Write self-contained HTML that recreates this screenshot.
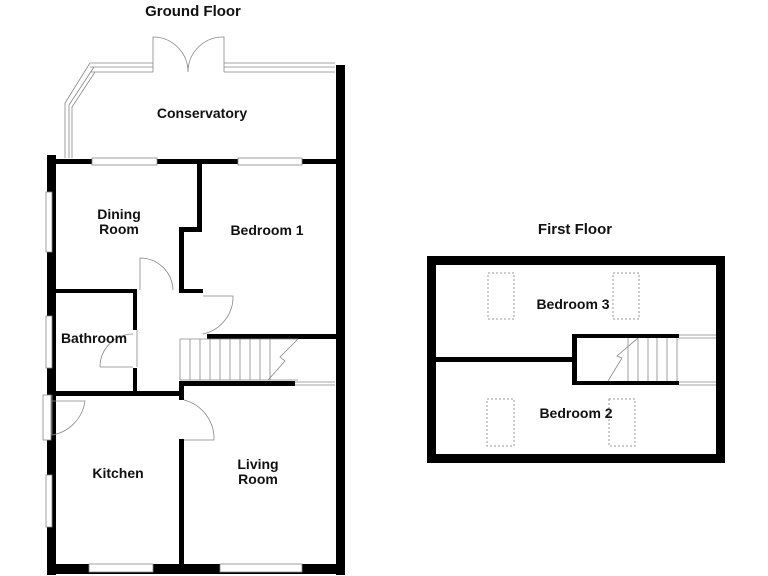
<!DOCTYPE html>
<html><head><style>body{margin:0;background:#fff}svg{display:block}text{font-family:"Liberation Sans",Arial,sans-serif;font-weight:bold;fill:#111}</style></head><body>
<svg width="768" height="576" viewBox="0 0 768 576">
<rect width="768" height="576" fill="#fff"/>
<text x="193" y="16" font-size="15" text-anchor="middle">Ground Floor</text>
<text x="575" y="234" font-size="15" text-anchor="middle">First Floor</text>
<g fill="#000">
<rect x="336" y="65" width="9" height="510"/>
<rect x="47" y="155" width="9" height="420"/>
<rect x="47" y="564" width="298" height="10"/>
<rect x="47" y="159" width="296" height="5"/>
<rect x="197" y="160" width="5" height="70"/>
<rect x="179" y="227" width="23" height="5"/>
<rect x="179" y="227" width="5" height="63"/>
<rect x="47" y="289" width="90" height="4"/>
<rect x="133" y="289" width="4" height="41"/>
<rect x="133" y="368" width="4" height="26"/>
<rect x="47" y="391" width="137" height="5"/>
<rect x="179" y="381" width="5" height="19"/>
<rect x="179" y="289" width="24" height="4"/>
<rect x="207" y="334" width="131" height="5"/>
<rect x="180" y="381" width="115" height="5"/>
<rect x="179" y="439" width="5" height="128"/>
<rect x="427" y="256" width="298" height="9"/>
<rect x="427" y="454" width="298" height="9"/>
<rect x="427" y="256" width="9" height="207"/>
<rect x="716" y="256" width="9" height="207"/>
<rect x="436" y="357" width="140" height="5"/>
<rect x="572" y="334" width="5" height="51"/>
<rect x="572" y="334" width="107" height="4"/>
<rect x="572" y="381" width="107" height="4"/>
</g>
<g fill="#fff" stroke="#888" stroke-width="0.8">
<rect x="92" y="158" width="65" height="7"/>
<rect x="238" y="158" width="64" height="7"/>
<rect x="46" y="192" width="6" height="60"/>
<rect x="46" y="316" width="6" height="52"/>
<rect x="46" y="475" width="6" height="52"/>
<rect x="89" y="564" width="64" height="8"/>
<rect x="220" y="564" width="82" height="8"/>
<rect x="43" y="395" width="8" height="45"/>
</g>
<g fill="none" stroke="#888" stroke-width="0.8">
<path d="M90 63 L153 63 M90 67 L153 67 M90 72 L153 72"/>
<path d="M224 63 L335 63 M224 67 L335 67 M224 72 L335 72"/>
<path d="M90 63 L65 103 L65 158 M94 67 L69 105 L69 158 M95 72 L72 107 L72 158"/>
<path d="M153 72 L153 37 A35 35 0 0 1 188 72 M224 72 L224 37 A35 35 0 0 0 188 72"/>
<path d="M137 330 L137 367 M100 367 L133 367 M133 334 A33 33 0 0 0 100 367"/>
<path d="M140 290 L140 258 A33 33 0 0 1 173 290"/>
<path d="M203 296 L233 296 A38 38 0 0 1 203 334"/>
<path d="M52 395 L52 435 A40 40 0 0 0 85 401 L52 401"/>
<path d="M184 400 A40 40 0 0 1 214 440 L184 440"/>
<path d="M180 339 L298 339 M180 380 L298 380 M180 339 L180 380"/>
<path d="M190 339 V380 M200 339 V380 M210 339 V380 M220 339 V380 M230 339 V380 M240 339 V380 M250 339 V380 M260 339 V380 M270 339 V380"/>
<path d="M298 339 L280 357 L285 361 L268 380"/>
<path d="M295 382 L335 382 M295 385 L335 385"/>
<path d="M679 335 L716 335 M679 338 L716 338 M679 382 L716 382 M679 385 L716 385"/>
<path d="M608 381 L622 358 L617 356 L638 338 M628 338 V381 M638 338 V381 M648 338 V381 M657 338 V381 M667 338 V381 M677 338 V381"/>
</g>
<g fill="none" stroke="#999" stroke-width="1" stroke-dasharray="2,2">
<rect x="488" y="273" width="26" height="46"/>
<rect x="613" y="273" width="26" height="46"/>
<rect x="487" y="399" width="27" height="47"/>
<rect x="609" y="399" width="26" height="47"/>
</g>
<g font-size="14">
<text x="202" y="118" text-anchor="middle">Conservatory</text>
<text x="119" y="219" text-anchor="middle">Dining</text>
<text x="119" y="234" text-anchor="middle">Room</text>
<text x="267" y="235" text-anchor="middle">Bedroom 1</text>
<text x="94" y="343" text-anchor="middle">Bathroom</text>
<text x="118" y="478" text-anchor="middle">Kitchen</text>
<text x="258" y="469" text-anchor="middle">Living</text>
<text x="258" y="484" text-anchor="middle">Room</text>
<text x="573" y="309" text-anchor="middle">Bedroom 3</text>
<text x="576" y="418" text-anchor="middle">Bedroom 2</text>
</g>
</svg>
</body></html>
